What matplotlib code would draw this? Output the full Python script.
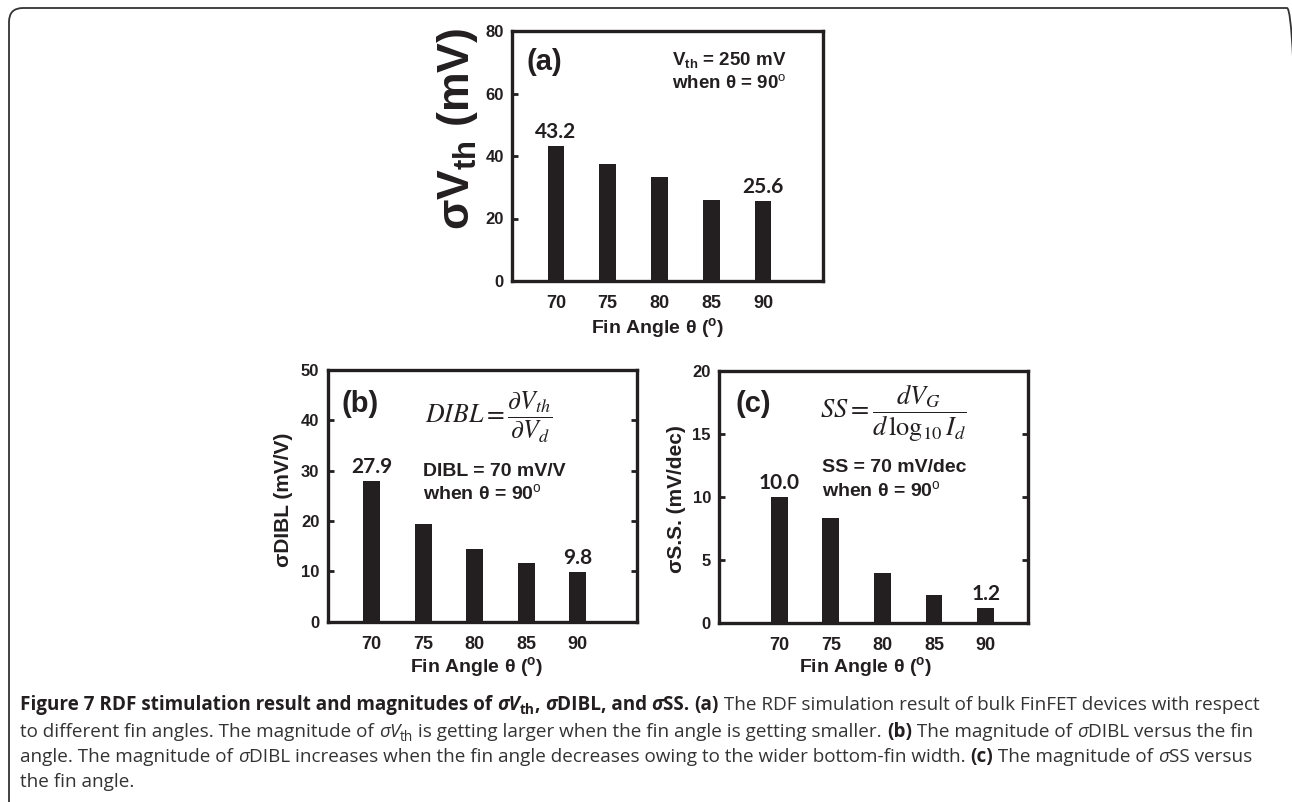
import matplotlib
matplotlib.use("Agg")
import matplotlib.pyplot as plt
from matplotlib.patches import FancyBboxPatch
from matplotlib.transforms import IdentityTransform

# ---------------- data ----------------
fin_angles = [70, 75, 80, 85, 90]
sigma_vth = [43.2, 37.6, 33.2, 25.8, 25.6]
sigma_dibl = [27.9, 19.4, 14.4, 11.6, 9.8]
sigma_ss = [10.0, 8.3, 4.0, 2.2, 1.2]
labels_a = {70: "43.2", 90: "25.6"}
labels_b = {70: "27.9", 90: "9.8"}
labels_c = {70: "10.0", 90: "1.2"}
yticks_a = [0, 20, 40, 60, 80]
yticks_b = [0, 10, 20, 30, 40, 50]
yticks_c = [0, 5, 10, 15, 20]

W, H = 1292, 802
INK = "#231f20"

plt.rcParams["mathtext.fontset"] = "custom"
plt.rcParams["mathtext.rm"] = "Liberation Sans"
plt.rcParams["mathtext.bf"] = "Liberation Sans:bold"
plt.rcParams["mathtext.it"] = "Liberation Sans:italic"
plt.rcParams["font.family"] = ["Liberation Sans", "DejaVu Sans"]

fig = plt.figure(figsize=(W / 100, H / 100), dpi=100)
fig.patch.set_facecolor("white")


def px_axes(left, top, right, bottom):
    return fig.add_axes([left / W, (H - bottom) / H, (right - left) / W, (bottom - top) / H])


def style_axes(ax, ylim, yticks, xlim, right_ticks):
    ax.set_xlim(*xlim)
    ax.set_ylim(*ylim)
    ax.set_yticks(yticks)
    ax.set_xticks(fin_angles)
    for s in ax.spines.values():
        s.set_linewidth(2.4)
        s.set_color(INK)
    ax.tick_params(axis="y", direction="in", length=4, width=2, color=INK,
                   labelsize=12, pad=6, labelcolor=INK, right=right_ticks)
    ax.tick_params(axis="x", length=0, labelsize=13, pad=10, labelcolor=INK)
    for lab in ax.get_xticklabels() + ax.get_yticklabels():
        lab.set_fontweight("bold")


def bar_labels(ax, values, labels):
    for x, v in zip(fin_angles, values):
        if x in labels:
            ax.annotate(labels[x], (x, v), xytext=(0, 10), textcoords="offset points",
                        ha="center", va="center", fontsize=15, fontweight="bold",
                        family=["Lato", "DejaVu Sans"], color=INK)


DEG = r"$^{\mathrm{o}}$"
bar_w = 1.62

# ---- panel (a)
axa = px_axes(512, 31, 823, 281)
axa.bar(fin_angles, sigma_vth, width=bar_w, color=INK)
style_axes(axa, (0, 80), yticks_a, (65.75, 95.8), False)
bar_labels(axa, sigma_vth, labels_a)
axa.set_ylabel(r"σV$_{\mathbf{th}}$ (mV)", fontsize=32, fontweight="bold", color=INK)
axa.yaxis.set_label_coords(-0.103, 0.608)
axa.set_xlabel(r"Fin Angle θ ($^{\mathbf{o}}$)", fontsize=14, fontweight="bold", color=INK)
axa.xaxis.set_label_coords(0.469, -0.14)
axa.text(0.048, 0.844, "(a)", transform=axa.transAxes, fontsize=21, fontweight="bold",
         va="baseline", ha="left", color=INK)
axa.text(0.514, 0.864, r"V$_{\mathbf{th}}$ = 250 mV", transform=axa.transAxes, fontsize=13.5,
         fontweight="bold", va="baseline", ha="left", color=INK)
axa.text(0.514, 0.771, "when θ = 90" + DEG, transform=axa.transAxes, fontsize=13.5,
         fontweight="bold", va="baseline", ha="left", color=INK)

# ---- panel (b)
axb = px_axes(327.7, 370, 637, 621.7)
axb.bar(fin_angles, sigma_dibl, width=bar_w, color=INK)
style_axes(axb, (0, 50), yticks_b, (65.73, 95.76), True)
bar_labels(axb, sigma_dibl, labels_b)
axb.set_ylabel("σDIBL (mV/V)", fontsize=15, fontweight="bold", color=INK)
axb.yaxis.set_label_coords(-0.112, 0.483)
axb.set_xlabel(r"Fin Angle θ ($^{\mathbf{o}}$)", fontsize=14, fontweight="bold", color=INK)
axb.xaxis.set_label_coords(0.48, -0.132)
axb.text(0.046, 0.834, "(b)", transform=axb.transAxes, fontsize=21, fontweight="bold",
         va="baseline", ha="left", color=INK)
axb.text(0.315, 0.813, r"$DIBL=\dfrac{\partial V_{th}}{\partial V_d}$", transform=axb.transAxes,
         fontsize=18.5, math_fontfamily="stix", va="center", ha="left", color=INK)
axb.text(0.307, 0.58, "DIBL = 70 mV/V", transform=axb.transAxes, fontsize=14,
         fontweight="bold", va="baseline", ha="left", color=INK)
axb.text(0.307, 0.486, "when θ = 90" + DEG, transform=axb.transAxes, fontsize=14,
         fontweight="bold", va="baseline", ha="left", color=INK)

# ---- panel (c)
axc = px_axes(719.3, 371, 1028, 623)
axc.bar(fin_angles, sigma_ss, width=bar_w, color=INK)
style_axes(axc, (0, 20), yticks_c, (64.2, 94.1), True)
bar_labels(axc, sigma_ss, labels_c)
axc.set_ylabel("σS.S. (mV/dec)", fontsize=15, fontweight="bold", color=INK)
axc.yaxis.set_label_coords(-0.108, 0.492)
axc.set_xlabel(r"Fin Angle θ ($^{\mathbf{o}}$)", fontsize=14, fontweight="bold", color=INK)
axc.xaxis.set_label_coords(0.475, -0.127)
axc.text(0.051, 0.838, "(c)", transform=axc.transAxes, fontsize=21, fontweight="bold",
         va="baseline", ha="left", color=INK)
axc.text(0.326, 0.835, r"$SS=\dfrac{dV_G}{d\,\log_{10}I_d}$", transform=axc.transAxes,
         fontsize=19, math_fontfamily="stix", va="center", ha="left", color=INK)
axc.text(0.333, 0.598, "SS = 70 mV/dec", transform=axc.transAxes, fontsize=14,
         fontweight="bold", va="baseline", ha="left", color=INK)
axc.text(0.333, 0.505, "when θ = 90" + DEG, transform=axc.transAxes, fontsize=14,
         fontweight="bold", va="baseline", ha="left", color=INK)

# ---- outer rounded frame
frame = FancyBboxPatch((9, -30), 1292, 802 - 8 + 30, boxstyle="round,pad=0,rounding_size=14",
                       transform=IdentityTransform(), fill=False, edgecolor="#333333",
                       linewidth=1.3, zorder=0)
fig.patches.append(frame)

# ---- caption
CAP_FAM = ["Open Sans", "DejaVu Sans"]
CAP_SIZE = 13.6
REG_COL = "#333333"
renderer = fig.canvas.get_renderer()


def run_width(s, size, weight, style):
    t1 = fig.text(0, 0, "|" + s + "|", fontsize=size, fontweight=weight, fontstyle=style, family=CAP_FAM)
    t2 = fig.text(0, 0, "||", fontsize=size, fontweight=weight, fontstyle=style, family=CAP_FAM)
    w = t1.get_window_extent(renderer).width - t2.get_window_extent(renderer).width
    t1.remove()
    t2.remove()
    return w


def draw_line(runs, x0, baseline):
    x = x0
    for s, weight, style, sub in runs:
        size = CAP_SIZE * (0.72 if sub else 1.0)
        dy = -4 if sub else 0.0
        col = INK if weight == "bold" else REG_COL
        fig.text(x / W, (H - baseline + dy) / H, s, fontsize=size, fontweight=weight,
                 fontstyle=style, family=CAP_FAM, color=col, va="baseline", ha="left")
        x += run_width(s, size, weight, style)


B, R = "bold", "normal"
line1 = [("Figure 7 RDF stimulation result and magnitudes of ", B, "normal", False),
         ("σV", B, "italic", False), ("th", B, "normal", True), (", ", B, "normal", False),
         ("σ", B, "italic", False), ("DIBL, and ", B, "normal", False),
         ("σ", B, "italic", False), ("SS. ", B, "normal", False), ("(a)", B, "normal", False),
         (" The RDF simulation result of bulk FinFET devices with respect", R, "normal", False)]
line2 = [("to different fin angles. The magnitude of ", R, "normal", False),
         ("σV", R, "italic", False), ("th", R, "normal", True),
         (" is getting larger when the fin angle is getting smaller. ", R, "normal", False),
         ("(b)", B, "normal", False), (" The magnitude of ", R, "normal", False),
         ("σ", R, "italic", False), ("DIBL versus the fin", R, "normal", False)]
line3 = [("angle. The magnitude of ", R, "normal", False), ("σ", R, "italic", False),
         ("DIBL increases when the fin angle decreases owing to the wider bottom-fin width. ", R, "normal", False),
         ("(c)", B, "normal", False), (" The magnitude of ", R, "normal", False),
         ("σ", R, "italic", False), ("SS versus", R, "normal", False)]
line4 = [("the fin angle.", R, "normal", False)]

for runs, base in zip([line1, line2, line3, line4], [710, 737, 762, 787]):
    draw_line(runs, 20, base)

fig.savefig("out.png", dpi=100, facecolor="white")
